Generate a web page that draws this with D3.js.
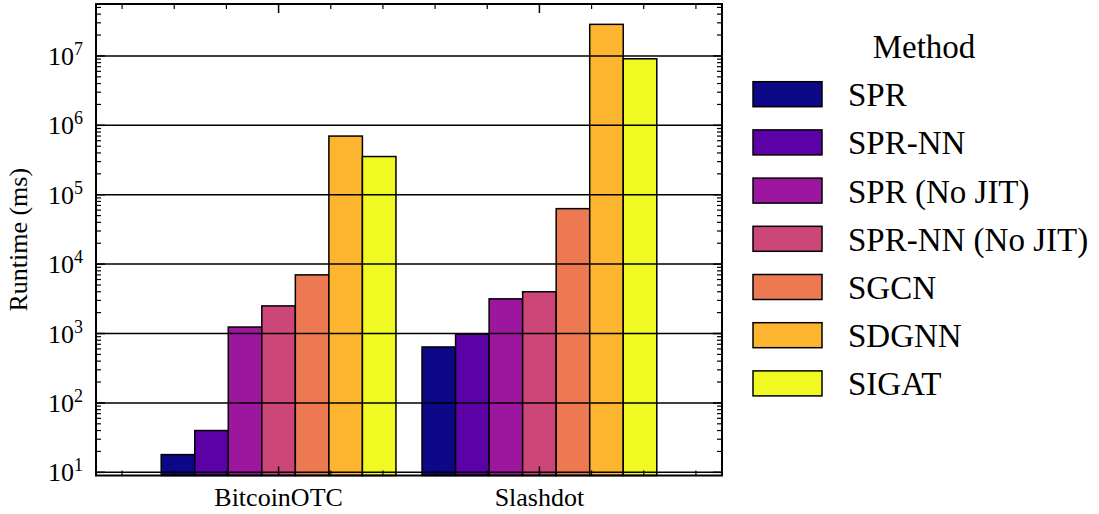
<!DOCTYPE html>
<html>
<head>
<meta charset="utf-8">
<script src="https://cdn.jsdelivr.net/npm/d3@7"></script>
<style>
  body { margin: 0; background: #fff; }
  svg { display: block; }
  svg text { font-family: "Liberation Serif", "Times New Roman", Times, "DejaVu Serif", serif; }
</style>
</head>
<body>
<div id="chart"></div>
<script>
// data
const datasets = ["BitcoinOTC", "Slashdot"];
const methods = ["SPR", "SPR-NN", "SPR (No JIT)", "SPR-NN (No JIT)", "SGCN", "SDGNN", "SIGAT"];
const methodColors = ["#0d0887", "#5c01a6", "#9c179e", "#cc4778", "#ed7953", "#fdb42f", "#f0f921"];
const runtimeBitcoinOTC = [18, 40, 1240, 2500, 7000, 700000, 355000];
const runtimeSlashdot = [640, 980, 3160, 4000, 63000, 28500000, 9100000];
const yTickExponents = [1, 2, 3, 4, 5, 6, 7];

const runtimes = [runtimeBitcoinOTC, runtimeSlashdot];
const serif = "'Liberation Serif', 'Times New Roman', Times, serif";

const W = 1099, H = 514;
const margin = {top: 4, right: 377, bottom: 38.5, left: 96};
const x0 = margin.left, x1 = W - margin.right;
const y0 = H - margin.bottom, y1 = margin.top;

const svg = d3.select("#chart").append("svg")
    .attr("width", W)
    .attr("height", H)
    .attr("font-family", serif);

svg.append("rect").attr("width", W).attr("height", H).attr("fill", "#fff");

const x = d3.scaleLinear().domain([-0.7, 1.7]).range([x0, x1]);
const y = d3.scaleLog().domain([9.0, 5.6e7]).range([y0, y1]);

const barW = 0.9 / methods.length;

let rows = [];
datasets.forEach((ds, i) => {
    methods.forEach((m, j) => {
        rows.push({ds: i, m: j, value: runtimes[i][j]});
    });
});

// bars
svg.append("g").selectAll("rect.bar")
    .data(rows)
    .enter()
    .append("rect")
    .attr("class", "bar")
    .attr("x", d => x(d.ds + (d.m - methods.length / 2) * barW))
    .attr("width", d => x(barW) - x(0))
    .attr("y", d => y(d.value))
    .attr("height", d => y0 - y(d.value))
    .attr("fill", d => methodColors[d.m])
    .attr("stroke", "#000")
    .attr("stroke-width", 1.5);

// grid on top of bars
const majors = yTickExponents.map(e => Math.pow(10, e));
svg.append("g").selectAll("line.grid")
    .data(majors)
    .enter()
    .append("line")
    .attr("class", "grid")
    .attr("x1", x0).attr("x2", x1)
    .attr("y1", d => y(d)).attr("y2", d => y(d))
    .attr("stroke", "#000")
    .attr("stroke-width", 1.5);

// minor y ticks
let minors = [];
for (let e = 0; e <= 7; e++) {
    for (let k = 2; k <= 9; k++) {
        let v = k * Math.pow(10, e);
        if (v > y.domain()[0] && v < y.domain()[1]) minors.push(v);
    }
}

function yTicks(g, side) {
    const dir = side === "left" ? 1 : -1;
    const xa = side === "left" ? x0 : x1;
    g.selectAll("line.minor")
        .data(minors)
        .enter()
        .append("line")
        .attr("x1", xa).attr("x2", xa + dir * 5)
        .attr("y1", d => y(d)).attr("y2", d => y(d))
        .attr("stroke", "#000").attr("stroke-width", 1.2);
    g.selectAll("line.major")
        .data(majors)
        .enter()
        .append("line")
        .attr("x1", xa).attr("x2", xa + dir * 9)
        .attr("y1", d => y(d)).attr("y2", d => y(d))
        .attr("stroke", "#000").attr("stroke-width", 1.5);
}
svg.append("g").call(yTicks, "left");
svg.append("g").call(yTicks, "right");

// x ticks, major at dataset centres, minor every 0.2
const xMinor = d3.range(-3, 9).map(k => k * 0.2).filter(v => Math.abs(v - Math.round(v)) > 1e-6);
function xTicks(g, side) {
    const dir = side === "bottom" ? -1 : 1;
    const ya = side === "bottom" ? y0 : y1;
    g.selectAll("line.minor")
        .data(xMinor)
        .enter()
        .append("line")
        .attr("x1", d => x(d)).attr("x2", d => x(d))
        .attr("y1", ya).attr("y2", ya + dir * 5)
        .attr("stroke", "#000").attr("stroke-width", 1.2);
    g.selectAll("line.major")
        .data(datasets)
        .enter()
        .append("line")
        .attr("x1", (d, i) => x(i)).attr("x2", (d, i) => x(i))
        .attr("y1", ya).attr("y2", ya + dir * 9)
        .attr("stroke", "#000").attr("stroke-width", 1.5);
}
svg.append("g").call(xTicks, "bottom");
svg.append("g").call(xTicks, "top");

// frame
svg.append("rect")
    .attr("x", x0).attr("y", y1)
    .attr("width", x1 - x0).attr("height", y0 - y1)
    .attr("fill", "none")
    .attr("stroke", "#000")
    .attr("stroke-width", 2);

// y tick labels 10^n
const yLab = svg.append("g").selectAll("text")
    .data(yTickExponents)
    .enter()
    .append("text")
    .attr("x", x0 - 13)
    .attr("y", d => y(Math.pow(10, d)) + 9)
    .attr("text-anchor", "end")
    .attr("font-size", "26px")
    .attr("fill", "#000");
yLab.append("tspan").text("10");
yLab.append("tspan")
    .attr("dy", -10)
    .attr("font-size", "18px")
    .text(d => d);

// x tick labels
svg.append("g").selectAll("text")
    .data(datasets)
    .enter()
    .append("text")
    .attr("x", (d, i) => x(i))
    .attr("y", 506)
    .attr("text-anchor", "middle")
    .attr("font-size", "26px")
    .attr("fill", "#000")
    .text(d => d);

// y axis title
svg.append("text")
    .attr("transform", `translate(27, ${(y0 + y1) / 2}) rotate(-90)`)
    .attr("text-anchor", "middle")
    .attr("font-size", "26px")
    .attr("fill", "#000")
    .text("Runtime (ms)");

// legend
const legend = svg.append("g");
legend.append("text")
    .attr("x", 924)
    .attr("y", 58)
    .attr("text-anchor", "middle")
    .attr("font-size", "33px")
    .attr("fill", "#000")
    .text("Method");

const items = legend.selectAll("g.item")
    .data(methods)
    .enter()
    .append("g")
    .attr("class", "item")
    .attr("transform", (d, i) => `translate(753, ${81.7 + i * 48.2})`);

items.append("rect")
    .attr("width", 69)
    .attr("height", 25)
    .attr("fill", (d, i) => methodColors[i])
    .attr("stroke", "#000")
    .attr("stroke-width", 1.5);

items.append("text")
    .attr("x", 95)
    .attr("y", 24.5)
    .attr("font-size", "33px")
    .attr("fill", "#000")
    .text(d => d);
</script>
</body>
</html>
